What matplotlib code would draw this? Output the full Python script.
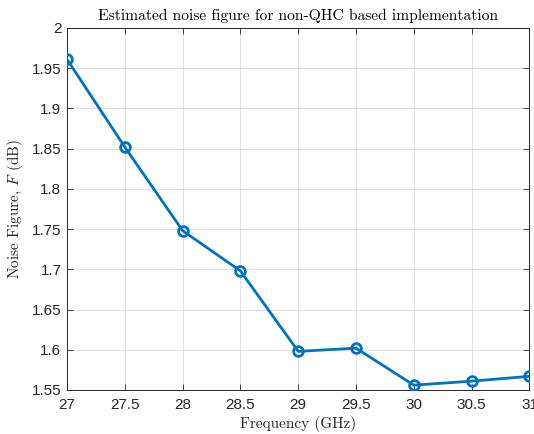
import matplotlib
matplotlib.use("Agg")
import matplotlib.pyplot as plt

freq_ghz = [27, 27.5, 28, 28.5, 29, 29.5, 30, 30.5, 31]
noise_figure_db = [1.961, 1.852, 1.748, 1.698, 1.598, 1.602, 1.556, 1.561, 1.567]
x_ticks = [27, 27.5, 28, 28.5, 29, 29.5, 30, 30.5, 31]
x_tick_labels = ["27", "27.5", "28", "28.5", "29", "29.5", "30", "30.5", "31"]
y_ticks = [1.55, 1.6, 1.65, 1.7, 1.75, 1.8, 1.85, 1.9, 1.95, 2.0]
y_tick_labels = ["1.55", "1.6", "1.65", "1.7", "1.75", "1.8", "1.85", "1.9", "1.95", "2"]

plt.rcParams["mathtext.fontset"] = "cm"
serif = {"family": "cmr10", "size": 11}

fig = plt.figure(figsize=(5.34, 4.34), dpi=100)
ax = fig.add_axes([0.1255, 0.1014, 0.8660, 0.8341])

line_color = (0.0, 0.447, 0.741)
ax.plot(freq_ghz, noise_figure_db, color=line_color, linewidth=2.0,
        marker="o", markersize=7, markerfacecolor="none",
        markeredgewidth=2.0, markeredgecolor=line_color, zorder=3)

ax.set_xlim(27, 31)
ax.set_ylim(1.55, 2.0)
ax.set_xticks(x_ticks)
ax.set_xticklabels(x_tick_labels)
ax.set_yticks(y_ticks)
ax.set_yticklabels(y_tick_labels)

for lab in ax.get_xticklabels() + ax.get_yticklabels():
    lab.set_fontfamily("Liberation Sans")
    lab.set_fontsize(11)
    lab.set_color("#262626")

ax.tick_params(direction="in", top=True, right=True, length=4, width=0.6,
               colors="#262626", labelcolor="#262626")
ax.tick_params(axis="x", pad=6)
ax.tick_params(axis="y", pad=4)
ax.grid(True, color="#dcdcdc", linewidth=0.6)
ax.set_axisbelow(True)
for s in ax.spines.values():
    s.set_color("#262626")
    s.set_linewidth(0.7)

ax.set_title("Estimated noise figure for non-QHC based implementation",
             fontdict={"family": "cmr10", "size": 11.2}, color="#000000", pad=6)
ax.set_xlabel("Frequency (GHz)", fontdict=serif, color="#262626", labelpad=3)
ax.set_ylabel(r"Noise Figure, $F$ (dB)", fontdict=serif, color="#262626", labelpad=5)

fig.savefig("out.png", dpi=100, facecolor="white")
